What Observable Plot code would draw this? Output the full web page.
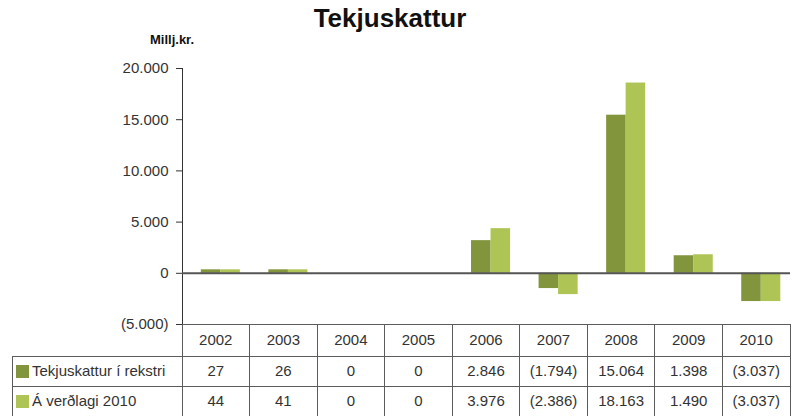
<!DOCTYPE html>
<html>
<head>
<meta charset="utf-8">
<script src="https://cdn.jsdelivr.net/npm/d3@7"></script>
<script src="https://cdn.jsdelivr.net/npm/@observablehq/plot@0.6"></script>
<style>
  html, body { margin: 0; padding: 0; background: #fff; }
  #wrap { position: relative; width: 794px; height: 416px; overflow: hidden; font-family: "Liberation Sans", Arial, sans-serif; color: #333; }
  #title { position: absolute; left: 0; top: 5px; width: 780px; text-align: center; font-size: 26px; line-height: 26px; font-weight: bold; color: #111; }
  #unit { position: absolute; left: 150px; top: 33px; font-size: 13px; line-height: 13px; font-weight: bold; color: #111; }
  #chart { position: absolute; left: 0; top: 0; }
  .ln { position: absolute; background: #5c5c5c; }
  .cell { position: absolute; text-align: center; font-size: 15px; color: #333; white-space: nowrap; }
  .lab { position: absolute; font-size: 15px; color: #333; white-space: nowrap; }
  .sw { position: absolute; width: 13px; height: 13px; }
</style>
</head>
<body>
<div id="wrap">
  <div id="title">Tekjuskattur</div>
  <div id="unit">Millj.kr.</div>
  <div id="chart"></div>
  <div id="tbl"></div>
</div>
<script>
// ---- data ----
const years = ["2002", "2003", "2004", "2005", "2006", "2007", "2008", "2009", "2010"];
const seriesNames = ["Tekjuskattur í rekstri", "Á verðlagi 2010"];
// bar heights
const barRekstri = [340, 340, 0, 0, 3190, -1490, 15440, 1715, -2760];
const barVerdlag = [340, 340, 0, 0, 4360, -2080, 18580, 1810, -2760];
// values printed in the data table
const tableRekstri = [27, 26, 0, 0, 2846, -1794, 15064, 1398, -3037];
const tableVerdlag = [44, 41, 0, 0, 3976, -2386, 18163, 1490, -3037];
const yTicks = [-5000, 0, 5000, 10000, 15000, 20000];

const colors = ["#83953c", "#aec455"];

const loc = d3.formatLocale({decimal: ",", thousands: ".", grouping: [3], currency: ["", ""]});
const f = loc.format(",d");
const paren = v => v < 0 ? `(${f(-v)})` : f(v);

const data1 = years.map((y, i) => ({year: y, value: barRekstri[i]}));
const data2 = years.map((y, i) => ({year: y, value: barVerdlag[i]}));

const chart = Plot.plot({
  width: 794,
  height: 356,
  marginLeft: 182,
  marginRight: 4,
  marginTop: 68,
  marginBottom: 32,
  style: {fontFamily: "'Liberation Sans', Arial, sans-serif", fontSize: "15px", color: "#333", background: "transparent", overflow: "visible"},
  x: {type: "band", domain: years, padding: 0, round: false, axis: null},
  y: {domain: [-5000, 20000], ticks: yTicks, tickFormat: paren, tickSize: 6, tickPadding: 8, line: true, label: null},
  marks: [
    Plot.barY(data1, {x: "year", y: "value", fill: colors[0], insetLeft: 18.8, insetRight: 29.2}),
    Plot.barY(data2, {x: "year", y: "value", fill: colors[1], insetLeft: 38.3, insetRight: 9.7}),
    Plot.ruleY([0], {stroke: "#555", strokeWidth: 2})
  ]
});
document.getElementById("chart").appendChild(chart);

// ---- data table aligned to the chart's x and y scales ----
const xs = chart.scale("x");
const ys = chart.scale("y");
const bw = xs.bandwidth;
const x0 = xs.apply(years[0]);
const xEnd = x0 + bw * years.length;
const labW = 170;
const top0 = ys.apply(-5000);           // table top = bottom of the frame
const rowY = [top0, 356, 386, 416];      // row boundaries
const tbl = document.getElementById("tbl");
let h = "";
const hline = (xa, xb, y) => `<div class="ln" style="left:${xa}px;top:${y - 0.5}px;width:${xb - xa}px;height:1px"></div>`;
const vline = (x, ya, yb) => `<div class="ln" style="left:${x - 0.5}px;top:${ya}px;width:1px;height:${yb - ya}px"></div>`;
h += hline(x0, xEnd, rowY[0]);
h += hline(x0 - labW, xEnd, rowY[1]);
h += hline(x0 - labW, xEnd, rowY[2]);
for (let i = 0; i <= years.length; i++) h += vline(x0 + i * bw, rowY[0], rowY[3]);
h += vline(x0 - labW, rowY[1], rowY[3]);
years.forEach((y, i) => {
  h += `<div class="cell" style="left:${x0 + i * bw}px;width:${bw}px;top:${rowY[0]}px;height:${rowY[1] - rowY[0]}px;line-height:${rowY[1] - rowY[0]}px">${y}</div>`;
});
[tableRekstri, tableVerdlag].forEach((r, k) => {
  const ya = rowY[k + 1], yb = rowY[k + 2];
  h += `<div class="sw" style="left:${x0 - labW + 3.5}px;top:${(ya + yb) / 2 - 6.5}px;background:${colors[k]}"></div>`;
  h += `<div class="lab" style="left:${x0 - labW + 20}px;top:${ya}px;height:${yb - ya}px;line-height:${yb - ya}px">${seriesNames[k]}</div>`;
  r.forEach((v, i) => {
    h += `<div class="cell" style="left:${x0 + i * bw}px;width:${bw}px;top:${ya}px;height:${yb - ya}px;line-height:${yb - ya}px">${paren(v)}</div>`;
  });
});
tbl.innerHTML = h;
</script>
</body>
</html>
